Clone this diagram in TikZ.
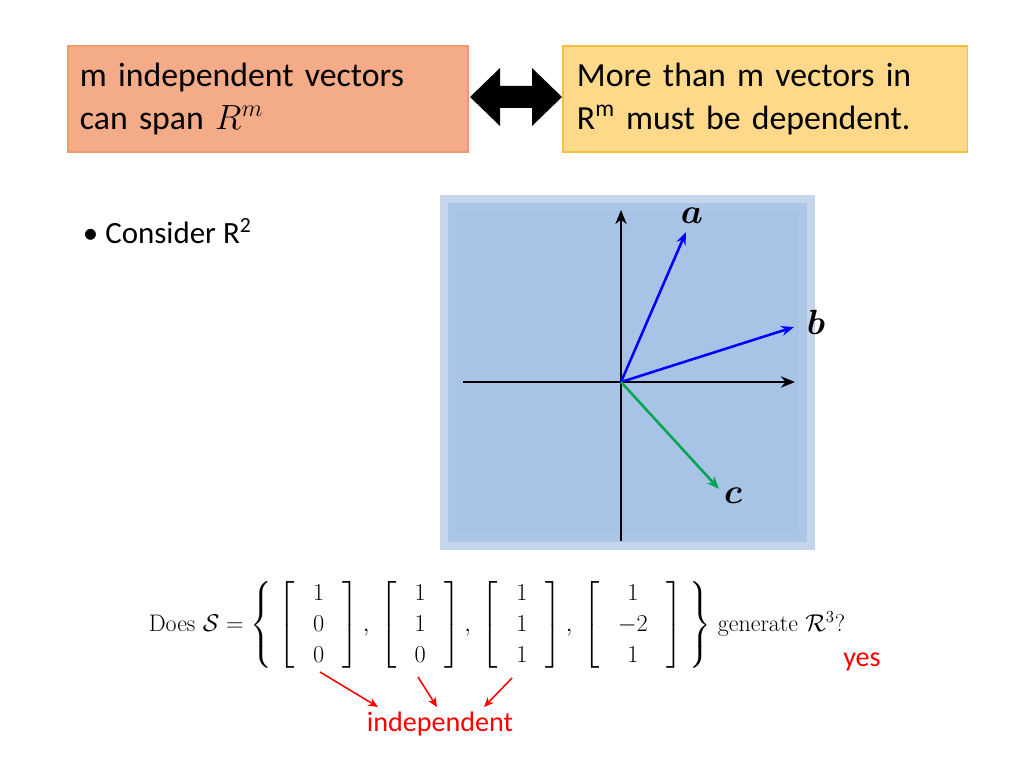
\documentclass[tikz,border=0pt]{standalone}
\usepackage{amsmath}
\usepackage{fontspec}
\setmainfont{Carlito}
\newfontfamily\lmr{Latin Modern Roman}
\usetikzlibrary{positioning,arrows.meta}

\newcommand{\colvec}[3]{\left[\begin{array}{c}#1\\#2\\#3\end{array}\right]}

\tikzset{
  topbox/.style={draw, line width=0.8pt, minimum height=2.65cm,
    text width=9.4cm, align=left, font=\fontsize{24}{30}\selectfont, inner sep=6pt},
  vec/.style={-{Stealth[length=9pt,width=7pt]}, line width=1.8pt},
  axis/.style={-{Stealth[length=10pt,width=8pt]}, line width=1.6pt},
  veclabel/.style={font=\fontsize{24}{24}\selectfont},
  redtext/.style={text=red, font=\fontsize{20}{20}\selectfont},
  redarrow/.style={-{Stealth[length=7pt,width=6pt]}, draw=red, line width=1.1pt}
}
\definecolor{salmon}{HTML}{F4AC88}
\definecolor{salmonline}{HTML}{EE9A6A}
\definecolor{sand}{HTML}{FFD98A}
\definecolor{sandline}{HTML}{F5C040}
\definecolor{plane}{HTML}{A7C3E6}
\definecolor{planeedge}{HTML}{C5D6EC}
\definecolor{vgreen}{HTML}{00A550}

\begin{document}
\begin{tikzpicture}[x=0.025cm,y=-0.025cm]
\useasboundingbox (0,0) rectangle (1024,768);
% top boxes
\node[topbox, fill=salmon, draw=salmonline, minimum width=10cm] (span) at (268,99)
  {m independent vectors\\can span $R^m$};
\node[topbox, fill=sand, draw=sandline, minimum width=10.1cm] (dep) at (765,99)
  {More than m vectors in\\R\textsuperscript{m} must be dependent.};
% double arrow
\fill[black] (470,97) -- (500,68) -- (500,86) -- (532,86) -- (532,68) -- (562,97)
  -- (532,126) -- (532,108) -- (500,108) -- (500,126) -- cycle;
% bullet
\node[anchor=west, font=\fontsize{22}{22}\selectfont] (bullet) at (78,231) {\textbullet\ Consider R\textsuperscript{2}};
% plane
\fill[planeedge] (440,195) rectangle (815,550);
\fill[plane!85!planeedge] (448,203) rectangle (807,542);
\fill[plane] (456,211) rectangle (799,534);
% axes
\coordinate (o) at (621,382);
\coordinate (ytop) at (621,210);
\coordinate (ybot) at (621,541);
\coordinate (xl) at (463,382);
\coordinate (xr) at (795,382);
\draw[axis] (ybot) -- (ytop);
\draw[axis] (xl) -- (xr);
% vectors
\coordinate (a) at (686,232);
\coordinate (b) at (794,327);
\coordinate (c) at (719,489);
\draw[vec, blue] (o) -- (a);
\draw[vec, blue] (o) -- (b);
\draw[vec, vgreen] (o) -- (c);
\node[veclabel] (la) at (692,216) {$\boldsymbol{a}$};
\node[veclabel] (lb) at (816,322) {$\boldsymbol{b}$};
\node[veclabel] (lc) at (733,496) {$\boldsymbol{c}$};
% set
\node[font=\fontsize{17}{22}\selectfont\lmr] (eq) at (497,625)
  {\setlength{\arraycolsep}{13pt}Does $\mathcal{S}=\left\{\;\colvec{1}{0}{0},\;
  \colvec{1}{1}{0},\;\colvec{1}{1}{1},\;\colvec{1}{-2}{1}\;\right\}$ generate $\mathcal{R}^3$?};
\node[redtext] (yes) at (862,662) {yes};
\node[redtext] (indep) at (440,724) {independent};
\coordinate (m1) at (320,672);
\coordinate (m2) at (418,677);
\coordinate (m3) at (512,678);
\draw[redarrow] (m1) -- (378,707);
\draw[redarrow] (m2) -- (437,707);
\draw[redarrow] (m3) -- (484,707);
\end{tikzpicture}
\end{document}
